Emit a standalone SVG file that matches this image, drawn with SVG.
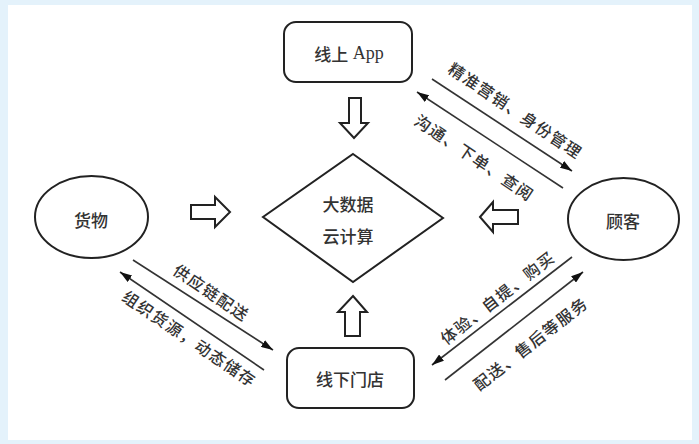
<svg xmlns="http://www.w3.org/2000/svg" width="699" height="444" viewBox="0 0 699 444">
<defs>
<style>
.shape{fill:#fff;stroke:#222;stroke-width:2}
.hollow{fill:#fff;stroke:#222;stroke-width:2;stroke-linejoin:miter}
.conn{stroke:#333;stroke-width:1.6;fill:none}
.t{font-family:"Noto Sans CJK SC","Noto Sans",sans-serif;font-size:17px;font-weight:500;fill:#333;text-anchor:middle;dominant-baseline:central}
.lbl{font-family:"Noto Sans CJK SC","Noto Sans",sans-serif;font-size:16px;font-weight:500;fill:#333;text-anchor:middle;dominant-baseline:central;letter-spacing:1.5px}
.serif{font-family:"Liberation Serif",serif;font-weight:400;font-size:18px}
</style>
<marker id="ah" viewBox="0 0 12 8" refX="12" refY="4" markerWidth="12" markerHeight="8" markerUnits="userSpaceOnUse" orient="auto">
<path d="M0,0 L12,4 L0,8 z" fill="#111"/>
</marker>
</defs>
<rect x="0" y="0" width="699" height="444" fill="#e4f2fb"/>
<rect x="8" y="5" width="684" height="435" fill="#fff"/>

<g id="app">
<rect class="shape" x="284" y="22" width="128" height="60" rx="12"/>
<text class="t" x="349" y="53">线上<tspan class="serif"> App</tspan></text>
</g>
<g id="store">
<rect class="shape" x="287" y="348" width="127" height="60" rx="12"/>
<text class="t" x="350" y="378">线下门店</text>
</g>
<g id="goods">
<ellipse class="shape" cx="91.5" cy="217" rx="56.5" ry="41"/>
<text class="t" x="91" y="219">货物</text>
</g>
<g id="customer">
<ellipse class="shape" cx="623.5" cy="219" rx="55.5" ry="41"/>
<text class="t" x="623" y="220">顾客</text>
</g>
<g id="bigdata">
<polygon class="shape" points="353,154 443,218 353,282 263,217"/>
<text class="t" x="348" y="203">大数据</text>
<text class="t" x="348" y="235">云计算</text>
</g>

<g id="hollow-arrows">
<polygon class="hollow" points="349,98 361,98 361,123 368,123 354,138 340,123 349,123"/>
<polygon class="hollow" points="353,296 367,312 360,312 360,336 345,336 345,312 338,312"/>
<polygon class="hollow" points="191,205 215,205 215,197 230,212 215,227 215,219 191,219"/>
<polygon class="hollow" points="480,217 493,202 493,210 518,210 518,224 493,224 493,232"/>
</g>

<g id="connectors">
<line class="conn" x1="133" y1="260" x2="273" y2="350" marker-end="url(#ah)"/>
<line class="conn" x1="264" y1="370" x2="120" y2="272" marker-end="url(#ah)"/>
<line class="conn" x1="432" y1="79" x2="572" y2="171" marker-end="url(#ah)"/>
<line class="conn" x1="563" y1="188" x2="417" y2="92" marker-end="url(#ah)"/>
<line class="conn" x1="572" y1="257" x2="432" y2="365" marker-end="url(#ah)"/>
<line class="conn" x1="445" y1="380" x2="583" y2="272" marker-end="url(#ah)"/>
<text class="lbl" transform="translate(212,292) rotate(34)">供应链配送</text>
<text class="lbl" transform="translate(190,338) rotate(34)">组织货源，动态储存</text>
<text class="lbl" transform="translate(516,110) rotate(34)">精准营销、身份管理</text>
<text class="lbl" transform="translate(475,157) rotate(34)">沟通、下单、查阅</text>
<text class="lbl" transform="translate(497,297) rotate(-38)">体验、自提、购买</text>
<text class="lbl" transform="translate(530,343) rotate(-38)">配送、售后等服务</text>
</g>
</svg>
